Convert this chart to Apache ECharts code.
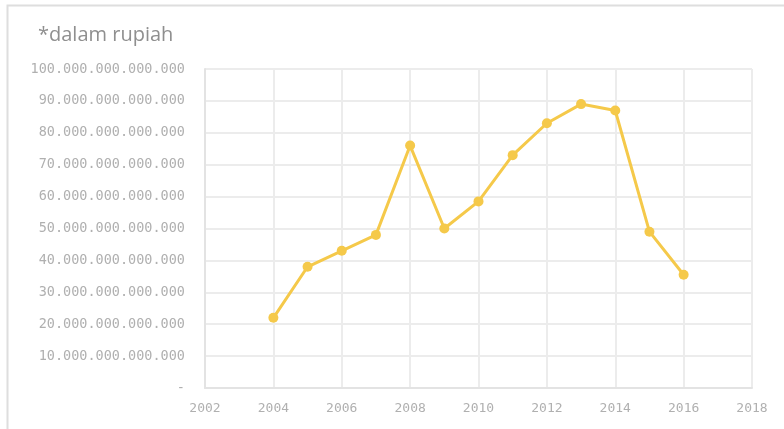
<!DOCTYPE html>
<html><head><meta charset="utf-8">
<script src="https://cdn.jsdelivr.net/npm/echarts@6/dist/echarts.min.js"></script>
<style>html,body{margin:0;padding:0;background:#fff}#c{width:784px;height:429px}</style>
</head><body><div id="c"></div>
<script>
const years = [2004, 2005, 2006, 2007, 2008, 2009, 2010, 2011, 2012, 2013, 2014, 2015, 2016];
const values = [22, 38, 43, 48, 76, 50, 58.5, 73, 83, 89, 87, 49, 35.5]; // in trillions of rupiah
const unit = 1e12;
const xTicks = [2002, 2004, 2006, 2008, 2010, 2012, 2014, 2016, 2018];
const title = '*dalam rupiah';

function fmt(v){
  if (v === 0) return '-';
  return String(Math.round(v)).replace(/\B(?=(\d{3})+(?!\d))/g, '.');
}
const chart = echarts.init(document.getElementById('c'));
chart.setOption({
  animation: false,
  graphic: [{
    type: 'rect', shape: {x: 7.5, y: 5.5, width: 790, height: 440},
    style: {fill: 'none', stroke: '#dedede', lineWidth: 2}
  }],
  title: {text: title, left: 33, top: 20, textStyle: {fontFamily: 'Open Sans', fontWeight: 'normal', fontSize: 20, color: '#8f8f8f'}},
  grid: {left: 205, right: 32, top: 69, bottom: 41},
  xAxis: {
    type: 'value', min: 2002, max: 2018, interval: 2,
    axisLine: {show: true, lineStyle: {color: '#e3e3e3', width: 2}},
    axisTick: {show: false},
    splitLine: {show: true, lineStyle: {color: '#ececec', width: 2}},
    axisLabel: {color: '#b0b0b0', fontSize: 13, fontFamily: 'DejaVu Sans Mono', margin: 14,
      formatter: v => xTicks.includes(v) ? String(v) : ''}
  },
  yAxis: {
    type: 'value', min: 0, max: 100 * unit, interval: 10 * unit,
    axisLine: {show: true, lineStyle: {color: '#e3e3e3', width: 2}},
    axisTick: {show: false},
    splitLine: {show: true, lineStyle: {color: '#ececec', width: 2}},
    axisLabel: {color: '#b0b0b0', fontSize: 13.5, fontFamily: 'DejaVu Sans Mono', margin: 20, formatter: fmt}
  },
  series: [{
    type: 'line',
    data: years.map((y, i) => [y, values[i] * unit]),
    lineStyle: {color: '#f5c94a', width: 3},
    itemStyle: {color: '#f5c94a'},
    symbol: 'circle', symbolSize: 10
  }]
});
</script></body></html>
